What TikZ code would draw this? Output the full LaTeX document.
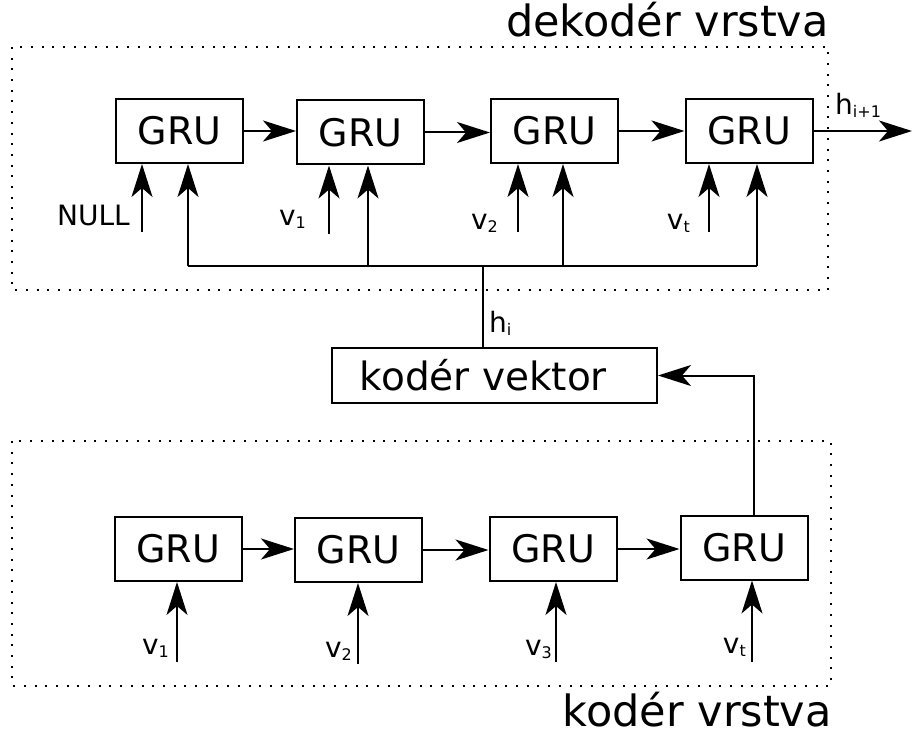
\documentclass[tikz,border=0pt]{standalone}
\usepackage{fontspec}
\setmainfont{DejaVu Sans}
\usetikzlibrary{arrows.meta}
\newcommand\lowidx[1]{\raisebox{-3pt}{\fontsize{16}{16}\selectfont #1}}
\begin{document}
\begin{tikzpicture}[x=1pt,y=-1pt,
  gru/.style={draw,line width=2pt,minimum width=127pt,minimum height=64pt,inner sep=0pt,font=\fontsize{38}{40}\selectfont},
  arr/.style={line width=2pt,-{Stealth[length=33pt,width=21pt,inset=9pt]}},
  wire/.style={line width=2pt},
  layer/.style={line width=2pt,dash pattern=on 2pt off 8.7pt},
  lbl/.style={inner sep=0pt,anchor=base east,font=\fontsize{28}{30}\selectfont},
  lblw/.style={inner sep=0pt,anchor=base west,font=\fontsize{28}{30}\selectfont},
  ttl/.style={inner sep=0pt,anchor=base east,font=\fontsize{43}{45}\selectfont}]
\useasboundingbox (0,0) rectangle (913,735);

% layer frames and titles
\draw[layer] (12,47) rectangle (828,290);
\draw[layer] (12,441) rectangle (831,686);
\node[ttl] (tdec) at (829,37) {dekodér vrstva};
\node[ttl] (tenc) at (832,726) {kodér vrstva};

% decoder cells
\node[gru] (d1) at (179.5,131) {GRU};
\node[gru] (d2) at (360.5,132.5) {GRU};
\node[gru] (d3) at (554.5,131) {GRU};
\node[gru] (d4) at (749,131) {GRU};

% encoder cells
\node[gru] (e1) at (178,549) {GRU};
\node[gru] (e2) at (358.5,550) {GRU};
\node[gru] (e3) at (553,549) {GRU};
\node[gru] (e4) at (744,547.5) {GRU};

% encoder vector
\node[draw,line width=2pt,minimum width=325pt,minimum height=55pt,inner sep=0pt,
      font=\fontsize{39}{41}\selectfont] (kv) at (494.5,375.5) {kodér vektor\kern22pt};

% recurrent links
\draw[arr] (d1.east) -- (d1.east -| d2.west);
\draw[arr] (d2.east) -- (d2.east -| d3.west);
\draw[arr] (d3.east) -- (d3.east -| d4.west);
\coordinate (out) at (912,131);
\draw[arr] (d4.east) -- (out);
\node[lblw] (hnext) at (835,115) {h\lowidx{i+1}};

\draw[arr] (e1.east) -- (e1.east -| e2.west);
\draw[arr] (e2.east) -- (e2.east -| e3.west);
\draw[arr] (e3.east) -- (e3.east -| e4.west);

% decoder inputs
\coordinate (i1) at (142,232);
\coordinate (i2) at (329,234);
\coordinate (i3) at (518,232);
\coordinate (i4) at (709,232);
\draw[arr] (i1) -- (i1 |- d1.south);
\draw[arr] (i2) -- (i2 |- d2.south);
\draw[arr] (i3) -- (i3 |- d3.south);
\draw[arr] (i4) -- (i4 |- d4.south);
\node[lbl] (lnull) at (130,226) {NULL};
\node[lbl] (lv1) at (306,226) {v\lowidx{1}};
\node[lbl] (lv2) at (498,230) {v\lowidx{2}};
\node[lbl] (lvt) at (690,230) {v\lowidx{t}};

% encoder vector fed to every decoder cell
\coordinate (b1) at (188,266);
\coordinate (b2) at (368,266);
\coordinate (b3) at (563,266);
\coordinate (b4) at (757,266);
\coordinate (bj) at (483,266);
\draw[wire] (b1) -- (b4);
\draw[arr] (b1) -- (b1 |- d1.south);
\draw[arr] (b2) -- (b2 |- d2.south);
\draw[arr] (b3) -- (b3 |- d3.south);
\draw[arr] (b4) -- (b4 |- d4.south);
\draw[wire] (bj) -- (bj |- kv.north);
\node[lblw] (hcur) at (489,333) {h\lowidx{i}};

% last encoder state to the encoder vector
\coordinate (up) at (754,375.5);
\draw[arr] (up |- e4.north) -- (up) -- (kv.east);

% encoder inputs
\coordinate (j1) at (177,662);
\coordinate (j2) at (358,664);
\coordinate (j3) at (556,662);
\coordinate (j4) at (752,662);
\draw[arr] (j1) -- (j1 |- e1.south);
\draw[arr] (j2) -- (j2 |- e2.south);
\draw[arr] (j3) -- (j3 |- e3.south);
\draw[arr] (j4) -- (j4 |- e4.south);
\node[lbl] (lw1) at (169,654) {v\lowidx{1}};
\node[lbl] (lw2) at (352,657) {v\lowidx{2}};
\node[lbl] (lw3) at (552,655) {v\lowidx{3}};
\node[lbl] (lw4) at (746,653) {v\lowidx{t}};
\end{tikzpicture}
\end{document}
